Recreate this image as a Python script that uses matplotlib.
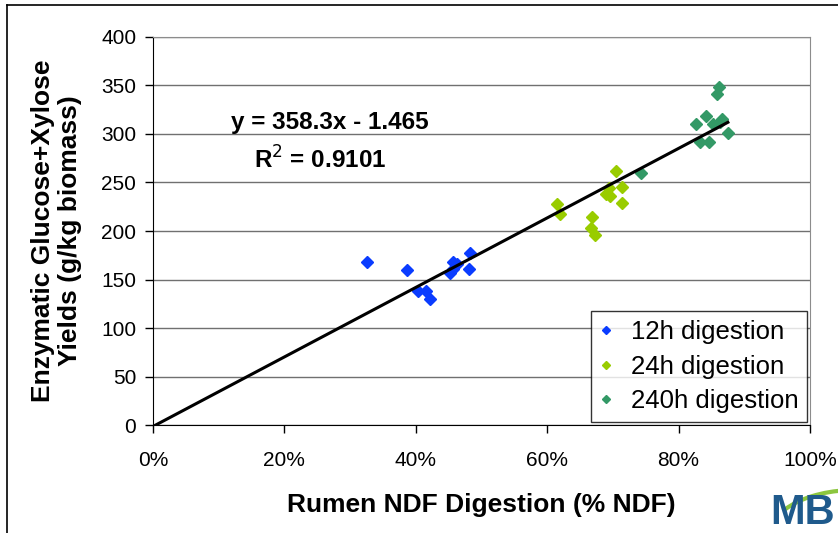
import numpy as np
import matplotlib
matplotlib.use("Agg")
import matplotlib.pyplot as plt
from matplotlib.ticker import FuncFormatter
from matplotlib.patches import Arc

plt.rcParams['font.family'] = ['Liberation Sans', 'DejaVu Sans']

# NDF digestion (fraction) and glucose+xylose yield (g/kg biomass)
x_12h = [0.325, 0.387, 0.404, 0.415, 0.421, 0.452, 0.456, 0.462, 0.457, 0.483, 0.481]
y_12h = [168.4, 159.8, 138.5, 138.5, 129.6, 156.4, 167.7, 166.0, 160.5, 177.0, 161.1]

x_24h = [0.704, 0.615, 0.620, 0.694, 0.690, 0.695, 0.714, 0.714, 0.668, 0.666, 0.673]
y_24h = [262.2, 227.8, 217.2, 244.0, 237.8, 236.1, 245.7, 229.2, 214.1, 203.4, 195.9]

x_240h = [0.743, 0.861, 0.859, 0.842, 0.826, 0.852, 0.866, 0.863, 0.875, 0.833, 0.846]
y_240h = [259.5, 348.8, 340.9, 318.9, 310.0, 310.0, 315.2, 312.7, 300.7, 292.0, 292.0]

slope = 358.3
intercept = -1.465
r2 = 0.9101
trend_x = [0.0, 0.875]

fig = plt.figure(figsize=(8.38, 5.33), dpi=100)
ax = fig.add_axes([0.1826, 0.2026, 0.9666 - 0.1826, 0.9306 - 0.2026])

# horizontal gridlines
ax.yaxis.grid(True, color='#707070', linewidth=1)
ax.set_axisbelow(True)

ax.plot(x_12h, y_12h, 'D', color='#0a3cff', ms=6.5, mec='#0a3cff', label='12h digestion', zorder=3)
ax.plot(x_24h, y_24h, 'D', color='#99cc00', ms=6.5, mec='#99cc00', label='24h digestion', zorder=3)
ax.plot(x_240h, y_240h, 'D', color='#339966', ms=6.5, mec='#339966', label='240h digestion', zorder=3)

tx = np.array(trend_x)
ax.plot(tx, slope * tx + intercept, color='black', lw=2.2, zorder=4)

ax.set_xlim(0, 1.0)
ax.set_ylim(0, 400)
ax.set_xticks(np.arange(0, 1.01, 0.2))
ax.set_yticks(np.arange(0, 401, 50))
ax.xaxis.set_major_formatter(FuncFormatter(lambda v, p: f"{v*100:.0f}%"))
ax.tick_params(axis='both', labelsize=15, length=6, width=1, direction='out')
ax.tick_params(axis='x', pad=13)
ax.tick_params(axis='y', pad=6)

for s in ['top', 'right']:
    ax.spines[s].set_color('#8c8c8c')
for s in ['left', 'bottom']:
    ax.spines[s].set_color('black')

ax.set_xlabel('Rumen NDF Digestion (% NDF)', fontsize=19, fontweight='bold', labelpad=16)
ax.set_ylabel('Enzymatic Glucose+Xylose\nYields (g/kg biomass)', fontsize=19,
              fontweight='bold', labelpad=14, linespacing=1.15)

ax.text(0.269, 312, f"y = {slope}x - {abs(intercept)}", fontsize=17.5, fontweight='bold',
        ha='center', va='center')
ax.text(0.254, 273, f"R$^2$ = {r2}", fontsize=17.5, fontweight='bold',
        ha='center', va='center')

leg = ax.legend(loc='lower right', fontsize=18.5, frameon=True, fancybox=False,
                borderaxespad=0.1, handlelength=0.5, handletextpad=0.7,
                markerscale=0.7, labelspacing=0.42, borderpad=0.35)
leg.get_frame().set_edgecolor('black')
leg.get_frame().set_linewidth(1)

# chart area border (top and left only, image cropped)
fig.add_artist(plt.Line2D([7 / 838, 1], [1 - 5 / 533, 1 - 5 / 533], color='black', lw=1.2))
fig.add_artist(plt.Line2D([7 / 838, 7 / 838], [0, 1 - 5 / 533], color='black', lw=1.2))

# partial logo at lower right
fig.add_artist(Arc((855 / 838, 1 - 535 / 533), 170 / 838, 90 / 533, theta1=40, theta2=150,
                   color='#8cc63f', lw=3, transform=fig.transFigure))
fig.text(770 / 838, 1 - 513 / 533, 'MB', fontsize=30, fontweight='bold', color='#1f5a8c',
         ha='left', va='center')

fig.savefig('out.png', dpi=100)
